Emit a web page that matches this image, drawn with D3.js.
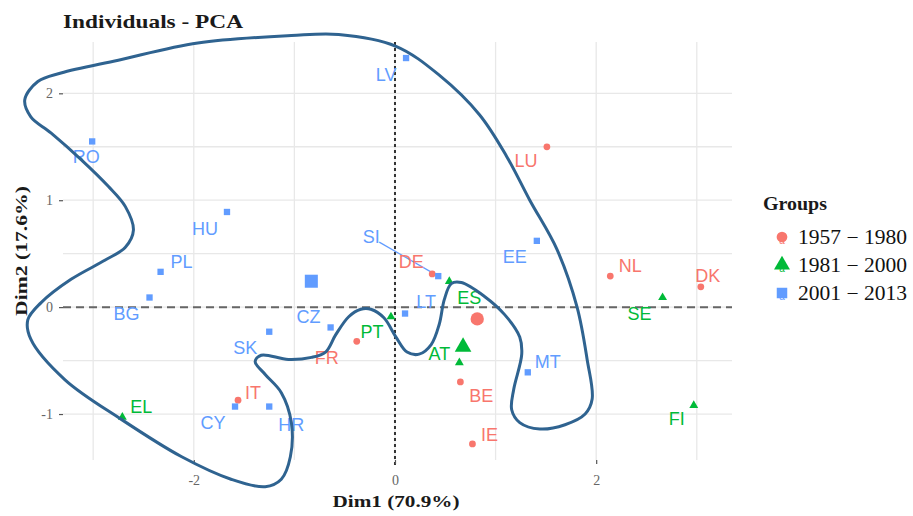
<!DOCTYPE html>
<html><head><meta charset="utf-8">
<script src="https://cdn.jsdelivr.net/npm/d3@7"></script>
<style>body{margin:0;background:#fff}</style>
</head><body>
<svg id="chart" width="913" height="516"></svg>
<script>
// ---------- data ----------
const groupNames = ["1957 − 1980", "1981 − 2000", "2001 − 2013"];
const countries = ["LU","NL","DK","DE","FR","IT","BE","IE",
                   "EL","PT","ES","AT","SE","FI",
                   "LV","RO","HU","PL","BG","SI","CZ","LT","SK","CY","HR","EE","MT"];
const groupIndex = [0,0,0,0,0,0,0,0,
                    1,1,1,1,1,1,
                    2,2,2,2,2,2,2,2,2,2,2,2,2];
const dim1 = [1.51, 2.14, 3.04, 0.37, -0.38, -1.56, 0.65, 0.77,
              -2.71, -0.04, 0.54, 0.64, 2.66, 2.97,
              0.11, -3.01, -1.67, -2.33, -2.44, 0.43, -0.64, 0.10, -1.25, -1.59, -1.25, 1.41, 1.32];
const dim2 = [1.50, 0.29, 0.19, 0.31, -0.32, -0.87, -0.70, -1.28,
              -1.03, -0.09, 0.24, -0.52, 0.09, -0.92,
              2.33, 1.55, 0.89, 0.33, 0.09, 0.29, -0.19, -0.06, -0.23, -0.93, -0.93, 0.62, -0.61];
const xTicks = [-2, 0, 2];
const yTicks = [-1, 0, 1, 2];
const xGrid = [-3, -2, -1, 0, 1, 2, 3];
const yGrid = [-1, -0.5, 0, 0.5, 1, 1.5, 2];
// hand-drawn outline (data units)
const outlineX = [-3.68,-3.55,-3.32,-2.75,-1.96,-1.03,-0.56,0.01,0.44,0.84,1.11,1.34,1.61,1.81,1.91,1.96,1.89,1.69,1.44,1.24,1.16,1.18,1.26,1.24,1.09,0.89,0.66,0.56,0.49,0.44,0.36,0.24,0.12,0.01,-0.11,-0.24,-0.34,-0.46,-0.59,-0.69,-0.83,-1.06,-1.33,-1.39,-1.29,-1.13,-1.03,-1.04,-1.13,-1.29,-1.63,-2.12,-2.72,-3.28,-3.62,-3.65,-3.52,-3.22,-2.88,-2.68,-2.60,-2.68,-2.85,-3.12,-3.42,-3.62];
const outlineY = [1.94,2.11,2.19,2.31,2.47,2.54,2.55,2.44,2.17,1.80,1.41,1.00,0.54,0.00,-0.49,-0.86,-1.00,-1.10,-1.14,-1.08,-0.96,-0.77,-0.44,-0.28,-0.07,0.10,0.23,0.22,0.07,-0.16,-0.35,-0.44,-0.42,-0.28,-0.10,-0.02,-0.02,-0.09,-0.26,-0.42,-0.47,-0.49,-0.45,-0.51,-0.63,-0.80,-1.08,-1.40,-1.61,-1.68,-1.61,-1.40,-1.05,-0.68,-0.30,-0.12,0.04,0.26,0.44,0.56,0.72,0.94,1.13,1.38,1.63,1.78];

// ---------- layout / style ----------
const colors = ["#F8766D", "#00BA38", "#619CFF"];
const shapes = [d3.symbolCircle, d3.symbolTriangle, d3.symbolSquare];
const pointSize = [36, 34, 40];
const meanSize = [140, 120, 170];
const labelNudge = {
  LU:[-21,14], NL:[20,-11], DK:[7,-11], DE:[-21,-12], FR:[-30,16], IT:[15,-8], BE:[21,14], IE:[17,-9],
  EL:[19,-11], PT:[-19,15], ES:[20,16], AT:[-20,-9], SE:[-23,16], FI:[-17,13],
  LV:[-20,16], RO:[-6,15], HU:[-22,17], PL:[21,-10], BG:[-23,16], SI:[-67,-40], CZ:[-22,-11],
  LT:[21,-12], SK:[-24,16], CY:[-22,16], HR:[22,18], EE:[-22,16], MT:[20,-11]
};
const panel = {left: 63, right: 732, top: 42, bottom: 460};

const svg = d3.select("#chart");
const x = d3.scaleLinear().domain([-3.30, 3.35]).range([panel.left, panel.right]);
const y = d3.scaleLinear().domain([-1.43, 2.48]).range([panel.bottom, panel.top]);

// grid
const g = svg.append("g");
g.selectAll(".vg").data(xGrid).enter().append("line")
  .attr("x1", d => x(d)).attr("x2", d => x(d))
  .attr("y1", panel.top).attr("y2", panel.bottom)
  .attr("stroke", "#e8e8e8").attr("stroke-width", 1.3);
g.selectAll(".hg").data(yGrid).enter().append("line")
  .attr("y1", d => y(d)).attr("y2", d => y(d))
  .attr("x1", panel.left).attr("x2", panel.right)
  .attr("stroke", "#e8e8e8").attr("stroke-width", 1.3);

// reference lines
svg.append("line").attr("x1", panel.left).attr("x2", panel.right)
  .attr("y1", y(0)).attr("y2", y(0))
  .attr("stroke", "#666").attr("stroke-width", 2).attr("stroke-dasharray", "8,5");
svg.append("line").attr("x1", x(0)).attr("x2", x(0))
  .attr("y1", panel.top).attr("y2", panel.bottom + 5)
  .attr("stroke", "#333").attr("stroke-width", 2).attr("stroke-dasharray", "3,3");

// axes
const fmt = d => String(d);
const xAxis = svg.append("g").attr("transform", `translate(0,${panel.bottom})`)
  .call(d3.axisBottom(x).tickValues(xTicks).tickSize(4).tickPadding(11).tickFormat(fmt));
const yAxis = svg.append("g").attr("transform", `translate(${panel.left},0)`)
  .call(d3.axisLeft(y).tickValues(yTicks).tickSize(4).tickPadding(6).tickFormat(fmt));
[xAxis, yAxis].forEach(a => {
  a.select(".domain").remove();
  a.selectAll(".tick line").attr("stroke", "#555").attr("stroke-width", 1.2);
  a.selectAll("text").attr("fill", "#666").attr("font-family", "Liberation Serif")
    .attr("font-size", 14);
});

// data rows
const rows = countries.map((c, i) => ({name: c, g: groupIndex[i], x: dim1[i], y: dim2[i]}));

// SI connector
rows.filter(d => d.name === "SI").forEach(d => {
  const n = labelNudge[d.name];
  svg.append("line").attr("x1", x(d.x) + n[0] + 8).attr("y1", y(d.y) + n[1] + 6)
    .attr("x2", x(d.x)).attr("y2", y(d.y))
    .attr("stroke", colors[d.g]).attr("stroke-width", 1.2);
});

// points
svg.selectAll(".pt").data(rows).enter().append("path")
  .attr("transform", d => `translate(${x(d.x)},${y(d.y)})`)
  .attr("d", d => d3.symbol().type(shapes[d.g]).size(pointSize[d.g])())
  .attr("fill", d => colors[d.g]);

// group means
const means = groupNames.map((name, gi) => {
  const r = rows.filter(d => d.g === gi);
  return {g: gi, x: d3.mean(r, d => d.x), y: d3.mean(r, d => d.y)};
});
svg.selectAll(".mean").data(means).enter().append("path")
  .attr("transform", d => `translate(${x(d.x)},${y(d.y)})`)
  .attr("d", d => d3.symbol().type(shapes[d.g]).size(meanSize[d.g])())
  .attr("fill", d => colors[d.g]);

// labels
svg.selectAll(".lbl").data(rows).enter().append("text")
  .attr("x", d => x(d.x) + labelNudge[d.name][0])
  .attr("y", d => y(d.y) + labelNudge[d.name][1] + 6.5)
  .attr("text-anchor", "middle")
  .attr("font-family", "Liberation Sans, Arial, sans-serif")
  .attr("font-size", 18)
  .attr("fill", d => colors[d.g])
  .text(d => d.name);

// outline
const outline = outlineX.map((v, i) => [v, outlineY[i]]);
svg.append("path")
  .attr("d", d3.line().x(d => x(d[0])).y(d => y(d[1])).curve(d3.curveCatmullRomClosed.alpha(0.5))(outline))
  .attr("fill", "none").attr("stroke", "#2f6390").attr("stroke-width", 3);

// titles
svg.append("text").attr("x", 63).attr("y", 28)
  .attr("font-family", "Liberation Serif").attr("font-size", 19).attr("font-weight", "bold").attr("fill", "#1a1a1a")
  .attr("textLength", 180).attr("lengthAdjust", "spacingAndGlyphs")
  .text("Individuals - PCA");
svg.append("text").attr("x", 396).attr("y", 507).attr("text-anchor", "middle")
  .attr("font-family", "Liberation Serif").attr("font-size", 17).attr("font-weight", "bold").attr("fill", "#1a1a1a")
  .attr("textLength", 127).attr("lengthAdjust", "spacingAndGlyphs")
  .text("Dim1 (70.9%)");
svg.append("text").attr("transform", "translate(27,251) rotate(-90)").attr("text-anchor", "middle")
  .attr("font-family", "Liberation Serif").attr("font-size", 17).attr("font-weight", "bold").attr("fill", "#1a1a1a")
  .attr("textLength", 130).attr("lengthAdjust", "spacingAndGlyphs")
  .text("Dim2 (17.6%)");

// legend
const leg = svg.append("g");
leg.append("text").attr("x", 763).attr("y", 210)
  .attr("font-family", "Liberation Serif").attr("font-size", 18).attr("font-weight", "bold").attr("fill", "#1a1a1a")
  .attr("textLength", 64).attr("lengthAdjust", "spacingAndGlyphs")
  .text("Groups");
groupNames.forEach((name, gi) => {
  const cy = 238 + gi * 28;
  leg.append("text").attr("x", 782).attr("y", cy + 6).attr("text-anchor", "middle")
    .attr("font-family", "Liberation Sans").attr("font-size", 10).attr("fill", colors[gi]).text("a");
  leg.append("path").attr("transform", `translate(782,${cy - 1})`)
    .attr("d", d3.symbol().type(shapes[gi]).size([90, 110, 110][gi])())
    .attr("fill", colors[gi]);
  leg.append("text").attr("x", 798).attr("y", cy + 6)
    .attr("font-family", "Liberation Serif").attr("font-size", 20).attr("fill", "#111")
    .attr("textLength", 109).attr("lengthAdjust", "spacingAndGlyphs")
    .text(name);
});
</script>
</body></html>
